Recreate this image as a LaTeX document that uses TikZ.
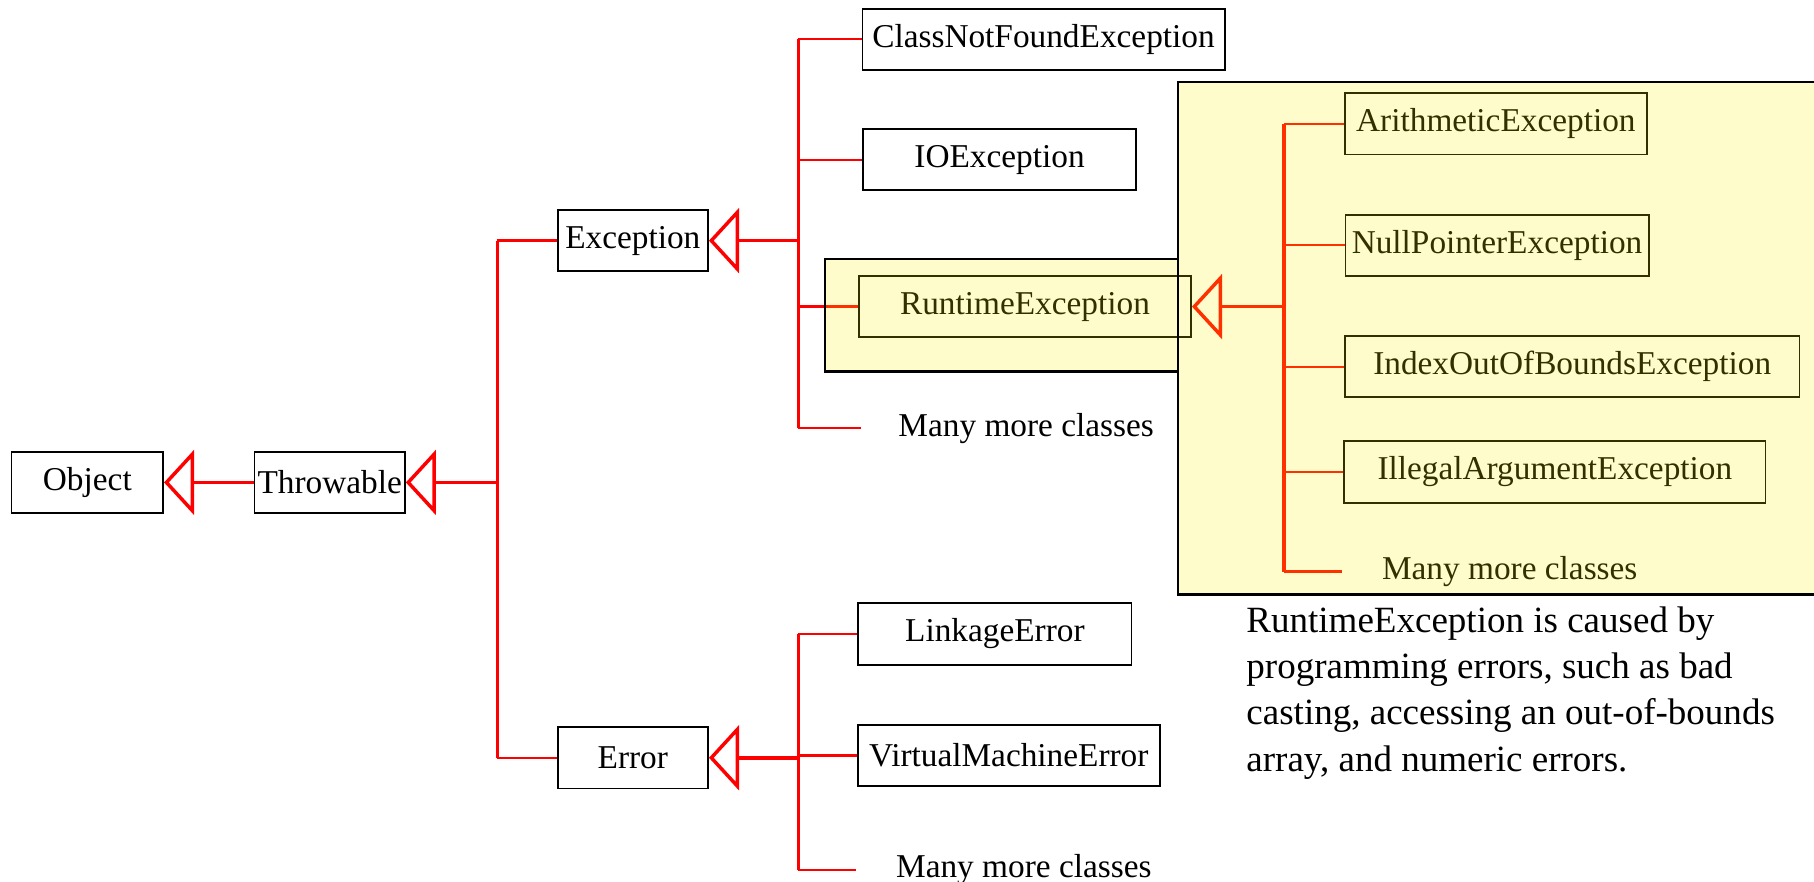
\documentclass[tikz,border=0pt]{standalone}
\usepackage{fontspec}
\setmainfont{Liberation Serif}
\usetikzlibrary{arrows.meta}

\begin{document}
\begin{tikzpicture}[x=0.5pt, y=-0.5pt,
  cls/.style={draw, line width=0.8pt, minimum height=26.5pt, inner sep=0pt, font=\fontsize{14.4}{17}\selectfont},
  more/.style={minimum width=145pt, minimum height=20pt, inner sep=0pt, font=\fontsize{14.4}{17}\selectfont},
  trunk/.style={red, line width=1.5pt},
  branch/.style={red, line width=1pt},
  inherit/.style={trunk, -{Triangle[open, length=13pt, width=28pt]}},
  tint/.style={draw, line width=1pt, fill=yellow, fill opacity=0.2}]
\useasboundingbox (0,0) rectangle (1568,762);

\node (obj) at (75.5,417) [cls, minimum width=65.5pt] {Object};
\node (thr) at (285,417) [cls, minimum width=65pt] {Throwable};
\node (exc) at (547,208) [cls, minimum width=65pt] {Exception};
\node (err) at (547,655) [cls, minimum width=65pt] {Error};

\node (cnf) at (902,34) [cls, minimum width=156.5pt] {ClassNotFoundException};
\node (ioe) at (864,138) [cls, minimum width=118pt] {IOException};
\node (rte) at (886,265) [cls, minimum width=143.5pt] {RuntimeException};
\node (mmc1) at (887,370) [more, minimum width=142pt] {Many more classes};

\node (lnk) at (860,548) [cls, minimum width=118pt] {LinkageError};
\node (vme) at (872,653) [cls, minimum width=130.5pt] {VirtualMachineError};
\node (mmc3) at (885,752) [more] {Many more classes};

\node (ari) at (1293,107) [cls, minimum width=130.5pt] {ArithmeticException};
\node (npe) at (1294,212) [cls, minimum width=131pt] {NullPointerException};
\node (ioob) at (1359,317) [cls, minimum width=196.5pt] {IndexOutOfBoundsException};
\node (iae) at (1344,408) [cls, minimum width=182pt] {IllegalArgumentException};
\node (mmc2) at (1305,494) [more] {Many more classes};

\node (note) at (1077,524) [anchor=north west, inner sep=0pt, align=left, font=\fontsize{16}{20}\selectfont]
  {RuntimeException is caused by\\programming errors, such as bad\\casting, accessing an out-of-bounds\\array, and numeric errors.};

\coordinate (jT) at (430,417);
\coordinate (jE) at (690,208);
\coordinate (jX) at (690,655);
\coordinate (jR) at (1110,265);

\draw [inherit] (thr) -- (obj);
\draw [inherit] (jT) -- (thr.east);
\draw [trunk] (jT |- exc.west) -- (jT |- err.west);
\draw [branch] (jT |- exc.west) -- (exc.west);
\draw [branch] (jT |- err.west) -- (err.west);

\draw [inherit] (jE) -- (exc.east);
\draw [trunk] (jE |- cnf.west) -- (jE |- mmc1.west);
\draw [branch] (jE |- cnf.west) -- (cnf.west);
\draw [branch] (jE |- ioe.west) -- (ioe.west);
\draw [branch] (jE |- rte.west) -- (rte.west);
\draw [branch] (jE |- mmc1.west) -- (mmc1.west);

\draw [inherit] (jX) -- (err.east);
\draw [trunk] (jX |- lnk.west) -- (jX |- mmc3.west);
\draw [branch] (jX |- lnk.west) -- (lnk.west);
\draw [branch] (jX |- vme.west) -- (vme.west);
\draw [branch] (jX |- mmc3.west) -- (mmc3.west);

\draw [inherit] (jR) -- (rte.east);
\draw [trunk] (jR |- ari.west) -- (jR |- mmc2.west);
\draw [branch] (jR |- ari.west) -- (ari.west);
\draw [branch] (jR |- npe.west) -- (npe.west);
\draw [branch] (jR |- ioob.west) -- (ioob.west);
\draw [branch] (jR |- iae.west) -- (iae.west);
\draw [branch] (jR |- mmc2.west) -- (mmc2.west);

% yellow highlight over the runtime part
\draw [tint] (713,224) rectangle (1018,321);
\draw [tint] (1018,71) rectangle (1580,514);

\end{tikzpicture}
\end{document}
